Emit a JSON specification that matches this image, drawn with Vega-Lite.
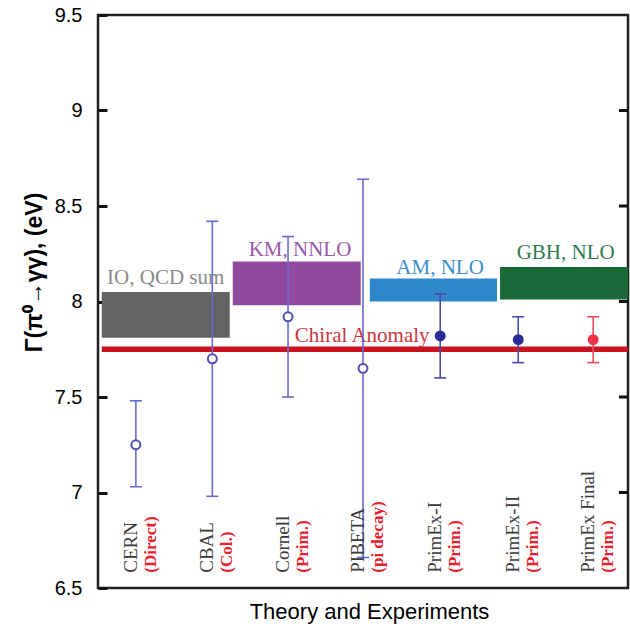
{
  "$schema": "https://vega.github.io/schema/vega-lite/v6.json",
  "autosize": {"type": "none"},
  "padding": {"left": 98, "top": 15, "right": 2, "bottom": 39},
  "width": 530,
  "height": 573,
  "background": "white",
  "config": {
    "view": {"stroke": "#222222", "strokeWidth": 2.5},
    "axis": {"grid": false},
    "axisX": {"labels": false, "ticks": false, "domain": false, "titleFont": "Liberation Sans", "titleFontSize": 22, "titleFontWeight": "normal", "titleColor": "#000000", "titlePadding": 13, "titleX": 271}
  },
  "datasets": {
    "theory": [
      {"name": "IO, QCD sum", "x0": 0.05, "x1": 1.74, "y0": 7.81, "y1": 8.05},
      {"name": "KM, NNLO", "x0": 1.78, "x1": 3.47, "y0": 7.98, "y1": 8.21},
      {"name": "AM, NLO", "x0": 3.59, "x1": 5.27, "y0": 8.0, "y1": 8.12},
      {"name": "GBH, NLO", "x0": 5.31, "x1": 7.0, "y0": 8.01, "y1": 8.18},
      {"name": "Chiral Anomaly", "x0": 0.05, "x1": 7.0, "y0": 7.735, "y1": 7.765}
    ],
    "labels": [
      {"text": "IO, QCD sum", "x": 0.12, "y": 8.09},
      {"text": "KM, NNLO", "x": 1.99, "y": 8.24},
      {"text": "AM, NLO", "x": 3.94, "y": 8.145},
      {"text": "GBH, NLO", "x": 5.53, "y": 8.222},
      {"text": "Chiral Anomaly", "x": 2.6, "y": 7.79}
    ],
    "yticks": [{"v": 7}, {"v": 7.5}, {"v": 8}, {"v": 8.5}, {"v": 9}],
    "exp": [
      {"name": "CERN", "sub": "(Direct)", "x": 0.5, "y": 7.25, "lo": 7.03, "hi": 7.48, "grp": "open"},
      {"name": "CBAL", "sub": "(Col.)", "x": 1.51, "y": 7.7, "lo": 6.98, "hi": 8.42, "grp": "open"},
      {"name": "Cornell", "sub": "(Prim.)", "x": 2.51, "y": 7.92, "lo": 7.5, "hi": 8.34, "grp": "open"},
      {"name": "PIBETA", "sub": "(pi decay)", "x": 3.5, "y": 7.65, "lo": 6.66, "hi": 8.64, "grp": "open"},
      {"name": "PrimEx-I", "sub": "(Prim.)", "x": 4.52, "y": 7.82, "lo": 7.6, "hi": 8.04, "grp": "filled"},
      {"name": "PrimEx-II", "sub": "(Prim.)", "x": 5.55, "y": 7.8, "lo": 7.68, "hi": 7.92, "grp": "filled"},
      {"name": "PrimEx Final", "sub": "(Prim.)", "x": 6.54, "y": 7.8, "lo": 7.68, "hi": 7.92, "grp": "final"}
    ]
  },
  "layer": [
    {
      "data": {"name": "theory"},
      "mark": {"type": "rect"},
      "encoding": {
        "x": {"field": "x0", "type": "quantitative", "scale": {"domain": [0, 7], "nice": false, "zero": false}, "title": "Theory and Experiments"},
        "x2": {"field": "x1"},
        "y": {"field": "y0", "type": "quantitative", "scale": {"domain": [6.5, 9.5], "nice": false, "zero": false},
          "axis": {"values": [6.5, 7, 7.5, 8, 8.5, 9, 9.5], "format": "~g", "domain": false, "offset": -9, "ticks": true, "tickSize": 9, "tickWidth": 3, "tickColor": "#111111", "labelFont": "Liberation Sans", "labelFontSize": 20, "labelColor": "#000000", "labelPadding": 16,
            "title": "Γ(π⁰→γγ), (eV)", "titleFont": "Liberation Sans", "titleFontSize": 23, "titleFontWeight": "bold", "titleColor": "#000000", "titleX": -66, "titleY": 257, "titleAlign": "center", "titleBaseline": "alphabetic", "titleAngle": 270}},
        "y2": {"field": "y1"},
        "color": {"field": "name", "type": "nominal", "legend": null,
          "scale": {"domain": ["IO, QCD sum", "KM, NNLO", "AM, NLO", "GBH, NLO", "Chiral Anomaly"], "range": ["#636363", "#8f4a9f", "#2f87c9", "#1a6a39", "#c8141f"]}}
      }
    },
    {
      "data": {"name": "yticks"},
      "mark": {"type": "rule", "strokeWidth": 3, "color": "#111111"},
      "encoding": {
        "x": {"datum": 6.88, "type": "quantitative"},
        "x2": {"datum": 7},
        "y": {"field": "v", "type": "quantitative"}
      }
    },
    {
      "data": {"name": "labels"},
      "mark": {"type": "text", "align": "left", "baseline": "alphabetic", "font": "Liberation Serif", "fontSize": 21},
      "encoding": {
        "x": {"field": "x", "type": "quantitative"},
        "y": {"field": "y", "type": "quantitative"},
        "text": {"field": "text"},
        "color": {"field": "text", "type": "nominal", "legend": null,
          "scale": {"domain": ["IO, QCD sum", "KM, NNLO", "AM, NLO", "GBH, NLO", "Chiral Anomaly"], "range": ["#8a8a8a", "#9a58ac", "#3a8fc8", "#2f7a52", "#cc3442"]}}
      }
    },
    {
      "data": {"name": "exp"},
      "mark": {"type": "rule", "strokeWidth": 1.6},
      "encoding": {
        "x": {"field": "x", "type": "quantitative"},
        "y": {"field": "lo", "type": "quantitative"},
        "y2": {"field": "hi"},
        "color": {"field": "grp", "type": "nominal", "legend": null,
          "scale": {"domain": ["open", "filled", "final"], "range": ["#6a6ad2", "#4a4aae", "#ec4c5c"]}}
      }
    },
    {
      "data": {"name": "exp"},
      "mark": {"type": "tick", "orient": "horizontal", "size": 12, "thickness": 1.6, "opacity": 1},
      "encoding": {
        "x": {"field": "x", "type": "quantitative"},
        "y": {"field": "lo", "type": "quantitative"},
        "color": {"field": "grp", "type": "nominal", "legend": null,
          "scale": {"domain": ["open", "filled", "final"], "range": ["#6a6ad2", "#4a4aae", "#ec4c5c"]}}
      }
    },
    {
      "data": {"name": "exp"},
      "mark": {"type": "tick", "orient": "horizontal", "size": 12, "thickness": 1.6, "opacity": 1},
      "encoding": {
        "x": {"field": "x", "type": "quantitative"},
        "y": {"field": "hi", "type": "quantitative"},
        "color": {"field": "grp", "type": "nominal", "legend": null,
          "scale": {"domain": ["open", "filled", "final"], "range": ["#6a6ad2", "#4a4aae", "#ec4c5c"]}}
      }
    },
    {
      "data": {"name": "exp"},
      "mark": {"type": "point", "shape": "circle", "filled": true, "size": 80, "strokeWidth": 2, "opacity": 1},
      "encoding": {
        "x": {"field": "x", "type": "quantitative"},
        "y": {"field": "y", "type": "quantitative"},
        "fill": {"field": "grp", "type": "nominal", "legend": null,
          "scale": {"domain": ["open", "filled", "final"], "range": ["#ffffff", "#2b2b98", "#ee3242"]}},
        "stroke": {"field": "grp", "type": "nominal", "legend": null,
          "scale": {"domain": ["open", "filled", "final"], "range": ["#5050b2", "#2b2b98", "#ee3242"]}}
      }
    },
    {
      "data": {"name": "exp"},
      "mark": {"type": "text", "angle": 270, "align": "left", "baseline": "alphabetic", "font": "Liberation Serif", "fontSize": 19, "color": "#3a3a3a", "dy": 1},
      "encoding": {
        "x": {"field": "x", "type": "quantitative"},
        "y": {"datum": 6.58, "type": "quantitative"},
        "text": {"field": "name"}
      }
    },
    {
      "data": {"name": "exp"},
      "mark": {"type": "text", "angle": 270, "align": "left", "baseline": "alphabetic", "font": "Liberation Serif", "fontSize": 17, "fontWeight": "bold", "color": "#e8202c", "dy": 20},
      "encoding": {
        "x": {"field": "x", "type": "quantitative"},
        "y": {"datum": 6.58, "type": "quantitative"},
        "text": {"field": "sub"}
      }
    }
  ],
  "resolve": {
    "scale": {"color": "independent", "fill": "independent", "stroke": "independent"}
  }
}
